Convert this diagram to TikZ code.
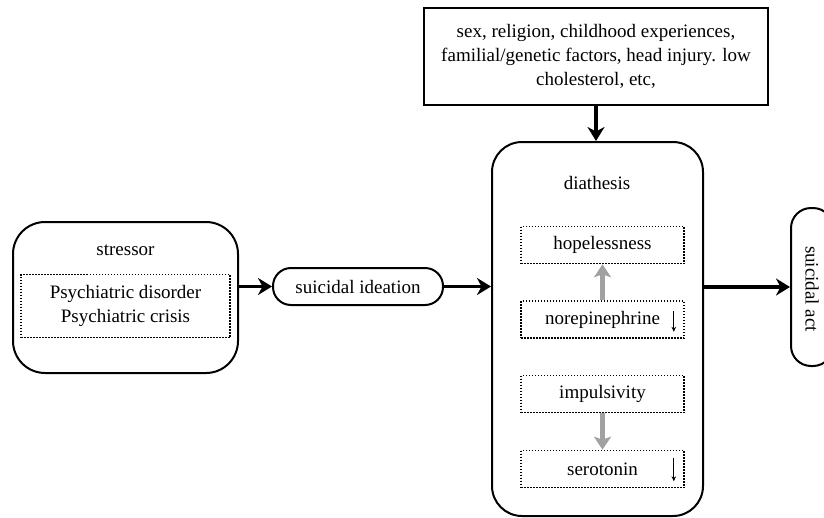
\documentclass[tikz,border=0pt]{standalone}
\usepackage{fontspec}
\setmainfont{Liberation Serif}
\usetikzlibrary{arrows.meta,calc}
\begin{document}
\begin{tikzpicture}[x=1pt,y=-1pt,
  every node/.style={font=\fontsize{19}{24}\selectfont, inner sep=0pt, align=center},
  mainbox/.style={draw, line width=2pt},
  dotbox/.style={draw, line width=1.6pt, dash pattern=on 1.5pt off 1.5pt, minimum width=163pt, minimum height=37pt},
  arr/.style={line width=3.3pt, -{Stealth[length=14pt,width=17pt,inset=4.5pt]}},
  grayarr/.style={draw=black!37, line width=5pt, -{Stealth[length=13pt,width=17pt,inset=3pt]}},
  smallarr/.style={line width=1pt, -{Stealth[length=5pt,width=4.5pt]}}
]
\useasboundingbox (0,0) rectangle (824,517);
\clip (0,0) rectangle (824,517);
% top box
\node[draw, line width=2.8pt, minimum width=344pt, minimum height=97pt] (top) at (596,56.5)
  {sex, religion, childhood experiences,\\ familial/genetic factors, head injury. low\\ cholesterol, etc,};
% diathesis
\node[mainbox, rounded corners=30pt, minimum width=211pt, minimum height=374pt] (dia) at (597.5,329) {};
\node (dialabel) at (597,183) {diathesis};
\node[dotbox] (hope) at (602.5,245) {hopelessness};
\node[dotbox] (nore) at (602.5,319.5) {norepinephrine};
\node[dotbox] (imp) at (602.5,394) {impulsivity};
\node[dotbox] (sero) at (602.5,469) {serotonin};
% stressor
\node[mainbox, rounded corners=32pt, minimum width=225pt, minimum height=151pt] (stress) at (125.5,297.5) {};
\node (stresslabel) at (125.5,250) {stressor};
\node[draw, line width=1.6pt, dash pattern=on 1.5pt off 1.5pt, minimum width=209pt, minimum height=63pt] (psy) at (125.5,306)
  {Psychiatric disorder\\ Psychiatric crisis};
% suicidal ideation
\node[mainbox, rounded corners=18pt, minimum width=170pt, minimum height=37pt] (idea) at (358,286.5) {suicidal ideation};
% suicidal act
\node[mainbox, rounded corners=20pt, minimum width=42pt, minimum height=158pt] (act) at (812,287) {};
\node[rotate=-90] (acttext) at (812,289) {suicidal act};
% connectors
\draw[arr] (top.south) -- (top.south |- dia.north);
\draw[arr] (stress.east |- idea.west) -- (idea.west);
\draw[arr] (idea.east) -- (idea.east -| dia.west);
\draw[arr] (dia.east |- act.west) -- (act.west);
\draw[grayarr] (nore.north) -- (hope.south);
\draw[grayarr] (imp.south) -- (sero.north);
\draw[smallarr] ($(nore.north east)+(-11,11)$) -- ($(nore.south east)+(-11,-7)$);
\draw[smallarr] ($(sero.north east)+(-11,8)$) -- ($(sero.south east)+(-11,-7)$);
\end{tikzpicture}
\end{document}
